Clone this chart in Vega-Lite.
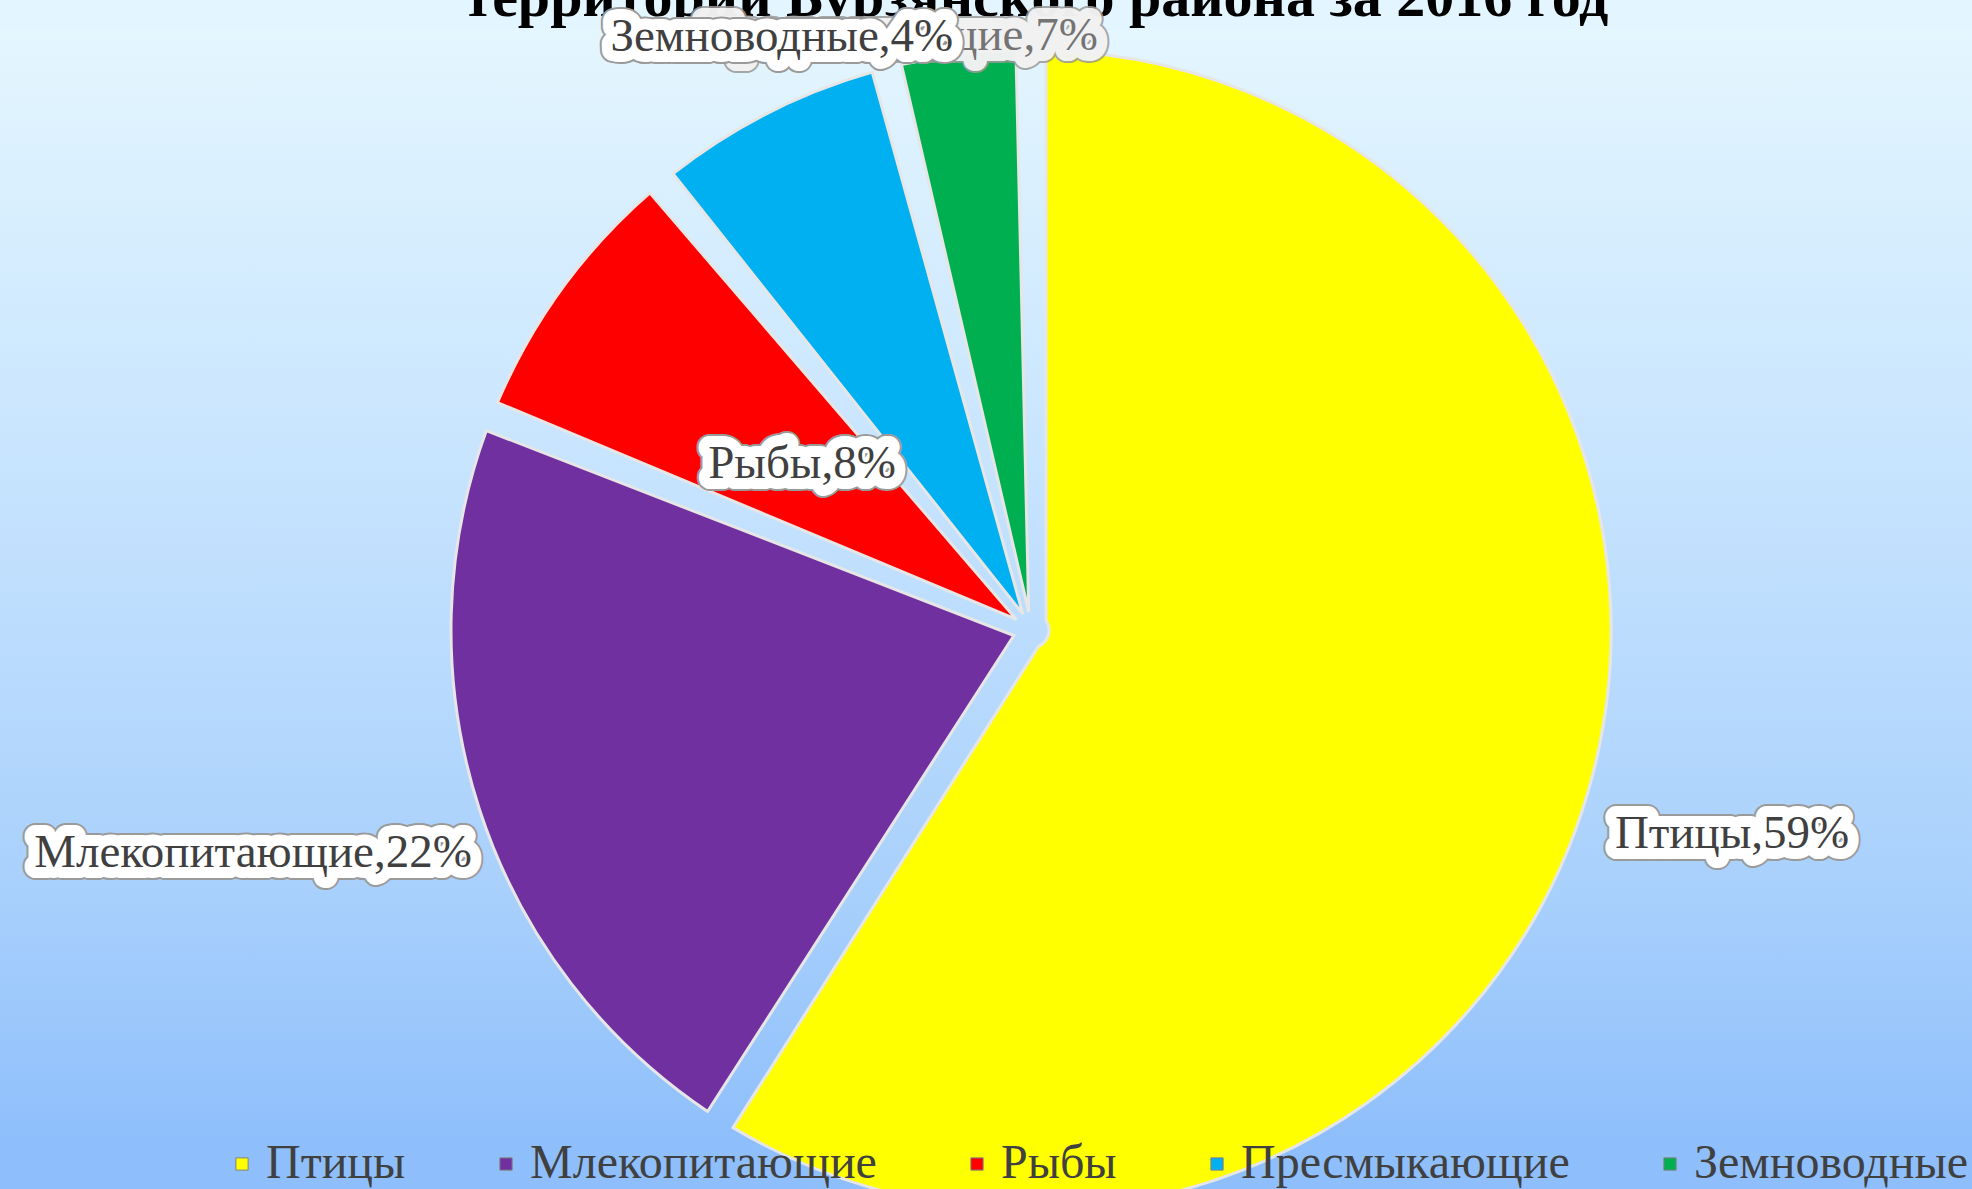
{
  "$schema": "https://vega.github.io/schema/vega-lite/v6.json",
  "width": 2062,
  "height": 1200,
  "autosize": "none",
  "padding": {"left": 0, "top": 30, "right": -90, "bottom": -41},
  "background": "#E3F5FE",
  "config": {
    "view": {"stroke": null},
    "text": {"font": "Liberation Serif", "fontSize": 47}
  },
  "data": {
    "values": [
      {"category": "Птицы", "value": 59, "label": "Птицы,59%"},
      {"category": "Млекопитающие", "value": 22, "label": "Млекопитающие,22%"},
      {"category": "Рыбы", "value": 8, "label": "Рыбы,8%"},
      {"category": "Пресмыкающие", "value": 7, "label": "Пресмыкающие,7%"},
      {"category": "Земноводные", "value": 4, "label": "Земноводные,4%"}
    ]
  },
  "layer": [
    {
      "data": {"values": [{}]},
      "mark": {
        "type": "rect",
        "fill": {"gradient": "linear", "x1": 0, "y1": 0, "x2": 0, "y2": 1,
          "stops": [
            {"offset": 0, "color": "#E4F6FE"},
            {"offset": 0.12, "color": "#DAF0FE"},
            {"offset": 0.38, "color": "#C6E3FE"},
            {"offset": 0.72, "color": "#A8D0FC"},
            {"offset": 0.92, "color": "#8FBFFB"},
            {"offset": 1, "color": "#8DBDFB"}
          ]},
        "stroke": null
      },
      "encoding": {}
    },
    {
      "data": {"values": [{"title": "территории Бурзянского района за 2016 год"}]},
      "mark": {"type": "text", "radius": 614, "dx": 5, "font": "Liberation Serif", "fontSize": 58, "fontWeight": "bold", "fill": "#000000", "align": "center", "baseline": "alphabetic"},
      "encoding": {
        "theta": {"datum": 0, "type": "quantitative"},
        "text": {"field": "title", "type": "nominal"}
      }
    },
    {
      "encoding": {
        "theta": {"field": "value", "type": "quantitative", "stack": true},
        "order": {"field": "value", "type": "quantitative", "sort": "descending"}
      },
      "layer": [
        {
          "mark": {"type": "arc", "radius": 580, "innerRadius": 18, "padAngle": 0.052, "stroke": "#e6e6e6", "strokeWidth": 3},
          "encoding": {
            "color": {
              "field": "category", "type": "nominal",
              "scale": {
                "domain": ["Птицы", "Млекопитающие", "Рыбы", "Пресмыкающие", "Земноводные"],
                "range": ["#FFFF00", "#7030A0", "#FF0000", "#00B0F0", "#00B050"]
              },
              "legend": {
                "orient": "none", "legendX": 218, "legendY": 1110,
                "direction": "horizontal", "title": null,
                "symbolType": "square", "symbolSize": 150,
                "symbolStrokeColor": "#808080", "symbolStrokeWidth": 1,
                "labelFont": "Liberation Serif", "labelFontSize": 48, "labelColor": "#404040",
                "columnPadding": 76, "labelOffset": 0, "labelLimit": 0
              }
            }
          }
        },
        {
          "mark": {"type": "text", "radius": 730, "stroke": "#9a9a9a", "strokeWidth": 26, "strokeJoin": "round", "fill": "#9a9a9a"},
          "encoding": {"text": {"condition": {"test": "datum.category === 'Птицы'", "field": "label"}, "value": ""}}
        },
        {
          "mark": {"type": "text", "radius": 730, "stroke": "#ffffff", "strokeWidth": 22, "strokeJoin": "round", "fill": "#ffffff"},
          "encoding": {"text": {"condition": {"test": "datum.category === 'Птицы'", "field": "label"}, "value": ""}}
        },
        {
          "mark": {"type": "text", "radius": 730, "fill": "#404040"},
          "encoding": {"text": {"condition": {"test": "datum.category === 'Птицы'", "field": "label"}, "value": ""}}
        },
        {
          "mark": {"type": "text", "radius": 818, "dy": -30, "stroke": "#9a9a9a", "strokeWidth": 26, "strokeJoin": "round", "fill": "#9a9a9a"},
          "encoding": {"text": {"condition": {"test": "datum.category === 'Млекопитающие'", "field": "label"}, "value": ""}}
        },
        {
          "mark": {"type": "text", "radius": 818, "dy": -30, "stroke": "#ffffff", "strokeWidth": 22, "strokeJoin": "round", "fill": "#ffffff"},
          "encoding": {"text": {"condition": {"test": "datum.category === 'Млекопитающие'", "field": "label"}, "value": ""}}
        },
        {
          "mark": {"type": "text", "radius": 818, "dy": -30, "fill": "#404040"},
          "encoding": {"text": {"condition": {"test": "datum.category === 'Млекопитающие'", "field": "label"}, "value": ""}}
        },
        {
          "mark": {"type": "text", "radius": 283, "stroke": "#9a9a9a", "strokeWidth": 26, "strokeJoin": "round", "fill": "#9a9a9a"},
          "encoding": {"text": {"condition": {"test": "datum.category === 'Рыбы'", "field": "label"}, "value": ""}}
        },
        {
          "mark": {"type": "text", "radius": 283, "stroke": "#ffffff", "strokeWidth": 22, "strokeJoin": "round", "fill": "#ffffff"},
          "encoding": {"text": {"condition": {"test": "datum.category === 'Рыбы'", "field": "label"}, "value": ""}}
        },
        {
          "mark": {"type": "text", "radius": 283, "fill": "#404040"},
          "encoding": {"text": {"condition": {"test": "datum.category === 'Рыбы'", "field": "label"}, "value": ""}}
        },
        {
          "mark": {"type": "text", "radius": 622, "dx": 151, "dy": -40, "stroke": "#9a9a9a", "strokeWidth": 26, "strokeJoin": "round", "fill": "#9a9a9a", "opacity": 0.85},
          "encoding": {"text": {"condition": {"test": "datum.category === 'Пресмыкающие'", "field": "label"}, "value": ""}}
        },
        {
          "mark": {"type": "text", "radius": 622, "dx": 151, "dy": -40, "stroke": "#ffffff", "strokeWidth": 22, "strokeJoin": "round", "fill": "#ffffff", "opacity": 0.85},
          "encoding": {"text": {"condition": {"test": "datum.category === 'Пресмыкающие'", "field": "label"}, "value": ""}}
        },
        {
          "mark": {"type": "text", "radius": 622, "dx": 151, "dy": -40, "fill": "#404040", "opacity": 0.7},
          "encoding": {"text": {"condition": {"test": "datum.category === 'Пресмыкающие'", "field": "label"}, "value": ""}}
        },
        {
          "mark": {"type": "text", "radius": 600, "dx": -174, "dy": 2, "stroke": "#9a9a9a", "strokeWidth": 26, "strokeJoin": "round", "fill": "#9a9a9a"},
          "encoding": {"text": {"condition": {"test": "datum.category === 'Земноводные'", "field": "label"}, "value": ""}}
        },
        {
          "mark": {"type": "text", "radius": 600, "dx": -174, "dy": 2, "stroke": "#ffffff", "strokeWidth": 22, "strokeJoin": "round", "fill": "#ffffff"},
          "encoding": {"text": {"condition": {"test": "datum.category === 'Земноводные'", "field": "label"}, "value": ""}}
        },
        {
          "mark": {"type": "text", "radius": 600, "dx": -174, "dy": 2, "fill": "#404040"},
          "encoding": {"text": {"condition": {"test": "datum.category === 'Земноводные'", "field": "label"}, "value": ""}}
        }
      ]
    }
  ]
}
